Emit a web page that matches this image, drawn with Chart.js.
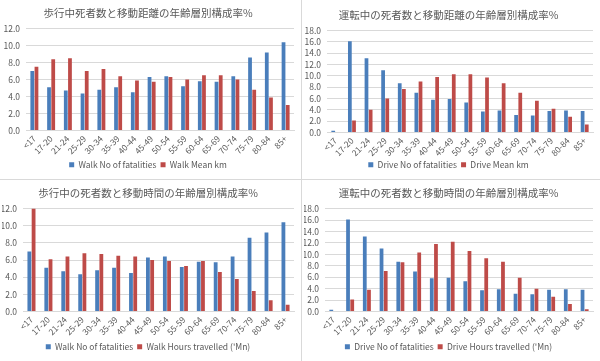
<!DOCTYPE html>
<html>
<head>
<meta charset="utf-8">
<script src="https://cdn.jsdelivr.net/npm/chart.js@4"></script>
<style>
  body { margin: 0; background: #fff; width: 600px; height: 361px; overflow: hidden; position: relative; }
  .panel { position: absolute; }
  .vline { position: absolute; left: 301px; top: 0; width: 1px; height: 361px; background: #d9d9d9; }
  .hline { position: absolute; left: 0; top: 179px; width: 600px; height: 1px; background: #d9d9d9; }
</style>
</head>
<body>
<div class="panel" style="left:0;top:0;width:301px;height:179px"><canvas id="walkKm"></canvas></div>
<div class="panel" style="left:302px;top:0;width:298px;height:179px"><canvas id="driveKm"></canvas></div>
<div class="panel" style="left:0;top:180px;width:301px;height:181px"><canvas id="walkHours"></canvas></div>
<div class="panel" style="left:302px;top:180px;width:298px;height:181px"><canvas id="driveHours"></canvas></div>
<div class="vline"></div>
<div class="hline"></div>
<script>
  const ageGroups = ['<17', '17-20', '21-24', '25-29', '30-34', '35-39', '40-44', '45-49',
    '50-54', '55-59', '60-64', '65-69', '70-74', '75-79', '80-84', '85+'];

  const walkFatalities = [7.0, 5.1, 4.7, 4.35, 4.8, 5.1, 4.5, 6.3, 6.4, 5.2, 5.8, 5.75, 6.4, 8.6, 9.2, 10.4];
  const walkMeanKm = [7.5, 8.4, 8.5, 7.0, 7.25, 6.4, 5.9, 5.75, 6.3, 6.0, 6.5, 6.5, 6.0, 4.8, 3.9, 3.0];
  const walkHours = [12.0, 6.1, 6.4, 6.8, 6.7, 6.5, 6.4, 6.0, 5.9, 5.3, 5.9, 4.6, 3.8, 2.4, 1.3, 0.8];

  const driveFatalities = [0.3, 16.1, 13.1, 11.0, 8.7, 7.0, 5.8, 5.9, 5.3, 3.7, 3.9, 3.1, 3.0, 3.8, 3.9, 3.8];
  const driveMeanKm = [0.0, 2.1, 4.0, 6.0, 7.7, 9.0, 9.8, 10.3, 10.3, 9.7, 8.7, 7.0, 5.6, 4.2, 2.8, 1.4];
  const driveHours = [0.0, 2.1, 3.8, 7.1, 8.6, 10.3, 11.8, 12.2, 10.6, 9.3, 8.7, 5.9, 4.0, 2.6, 1.3, 0.4];

  const blue = '#4A7EBB';
  const red = '#BE4B48';
  const font = "'Noto Sans CJK JP', 'Noto Sans', sans-serif";

  // box: [top pad, y axis width, x axis height]
  function makeChart(id, title, blueLabel, blueData, redLabel, redData, yMax, box) {
    const ctx = document.getElementById(id).getContext('2d');
    return new Chart(ctx, {
      type: 'bar',
      data: {
        labels: ageGroups,
        datasets: [
          { label: blueLabel, data: blueData, backgroundColor: blue, categoryPercentage: 0.5, barPercentage: 0.9 },
          { label: redLabel, data: redData, backgroundColor: red, categoryPercentage: 0.5, barPercentage: 0.9 }
        ]
      },
      options: {
        responsive: true,
        maintainAspectRatio: false,
        animation: false,
        layout: { padding: { left: 2, right: 7, top: box[0], bottom: 0 } },
        plugins: {
          title: {
            display: true,
            text: title,
            color: '#595959',
            font: { family: font, size: 10.5, weight: 'normal' },
            padding: { top: 7, bottom: 9 }
          },
          legend: {
            position: 'bottom',
            labels: {
              color: '#595959',
              font: { family: font, size: 8.5 },
              boxWidth: 5,
              boxHeight: 5,
              padding: 4
            }
          },
          tooltip: { enabled: false }
        },
        scales: {
          x: {
            afterFit: s => { s.height = box[2]; },
            grid: { display: false, drawTicks: false },
            border: { color: '#d9d9d9' },
            ticks: {
              autoSkip: false,
              color: '#595959',
              font: { family: font, size: 8.5 },
              maxRotation: 45,
              minRotation: 45,
              padding: 3
            }
          },
          y: {
            min: 0,
            max: yMax,
            afterFit: s => { s.width = box[1]; },
            grid: { color: '#d9d9d9', drawTicks: false },
            border: { display: false },
            ticks: {
              autoSkip: false,
              stepSize: 2,
              color: '#595959',
              font: { family: font, size: 8.5 },
              padding: 6,
              callback: v => v.toFixed(1)
            }
          }
        }
      }
    });
  }

  makeChart('walkKm', '歩行中死者数と移動距離の年齢層別構成率%',
    'Walk No of fatalities', walkFatalities, 'Walk Mean km', walkMeanKm, 12, [0, 24, 26]);
  makeChart('driveKm', '運転中の死者数と移動距離の年齢層別構成率%',
    'Drive No of fatalities', driveFatalities, 'Drive Mean km', driveMeanKm, 18, [2, 23, 24]);
  makeChart('walkHours', '歩行中の死者数と移動時間の年齢層別構成率%',
    'Walk No of fatalities', walkFatalities, "Walk Hours travelled ('Mn)", walkHours, 12, [0, 21, 27]);
  makeChart('driveHours', '運転中の死者数と移動時間の年齢層別構成率%',
    'Drive No of fatalities', driveFatalities, "Drive Hours travelled ('Mn)", driveHours, 18, [0, 21, 27]);
</script>
</body>
</html>
